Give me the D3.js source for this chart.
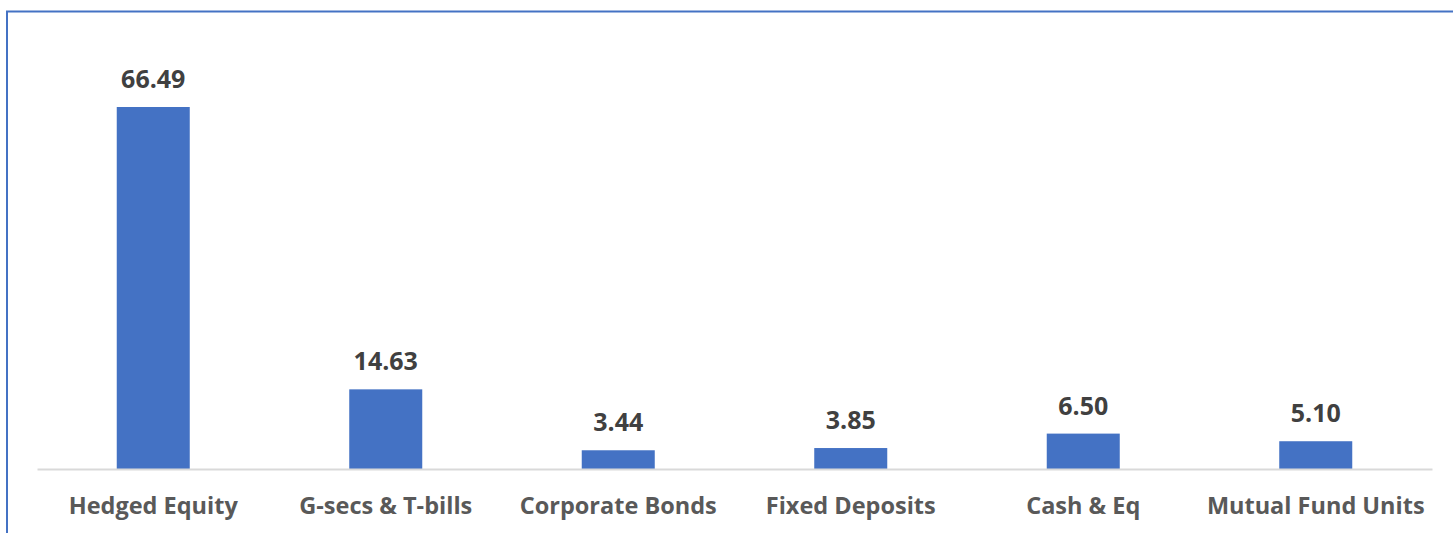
<!DOCTYPE html>
<html>
<head>
<meta charset="utf-8">
<script src="https://cdn.jsdelivr.net/npm/d3@7"></script>
<style>
  html, body { margin: 0; padding: 0; background: #fff; }
  svg { display: block; }
</style>
</head>
<body>
<svg id="chart" width="1453" height="533"></svg>
<script>
// Portfolio allocation by asset class (%)
const categories = ["Hedged Equity", "G-secs & T-bills", "Corporate Bonds", "Fixed Deposits", "Cash & Eq", "Mutual Fund Units"];
const values = [66.49, 14.63, 3.44, 3.85, 6.50, 5.10];
const valueLabels = ["66.49", "14.63", "3.44", "3.85", "6.50", "5.10"];

const svg = d3.select("#chart");
const W = 1453, H = 533;

// frame lines (top and left edges of the chart area)
svg.append("line").attr("x1", 6).attr("x2", W).attr("y1", 11.5).attr("y2", 11.5)
  .attr("stroke", "#4472C4").attr("stroke-width", 2);
svg.append("line").attr("x1", 7).attr("x2", 7).attr("y1", 11).attr("y2", H)
  .attr("stroke", "#4472C4").attr("stroke-width", 2);

const plot = { left: 37, right: 1432, baseline: 469 };

const x = d3.scaleBand()
  .domain(categories)
  .range([plot.left, plot.right])
  .paddingInner(0.686)
  .paddingOuter(0.343);

const y = d3.scaleLinear()
  .domain([0, 66.49])
  .range([plot.baseline, 107]);

const data = categories.map((c, i) => ({ cat: c, v: values[i], label: valueLabels[i] }));

svg.append("g").selectAll("rect")
  .data(data)
  .join("rect")
  .attr("x", d => x(d.cat))
  .attr("width", x.bandwidth())
  .attr("y", d => y(d.v))
  .attr("height", d => y(0) - y(d.v))
  .attr("fill", "#4472C4");

// category axis
const axis = svg.append("g")
  .attr("transform", `translate(0,${plot.baseline})`)
  .call(d3.axisBottom(x).tickSize(0).tickPadding(0));
axis.select(".domain").attr("stroke", "#D9D9D9").attr("stroke-width", 2);
axis.selectAll(".tick text")
  .attr("dy", null)
  .attr("y", 45)
  .attr("fill", "#595959")
  .style("font-family", "'Open Sans', sans-serif")
  .style("font-weight", "bold")
  .style("font-size", "23.5px");

// value labels above bars
svg.append("g").selectAll("text")
  .data(data)
  .join("text")
  .attr("x", d => x(d.cat) + x.bandwidth() / 2)
  .attr("y", d => y(d.v) - 19)
  .attr("text-anchor", "middle")
  .attr("fill", "#404040")
  .style("font-family", "'Open Sans', sans-serif")
  .style("font-weight", "bold")
  .style("font-size", "25px")
  .text(d => d.label);
</script>
</body>
</html>
